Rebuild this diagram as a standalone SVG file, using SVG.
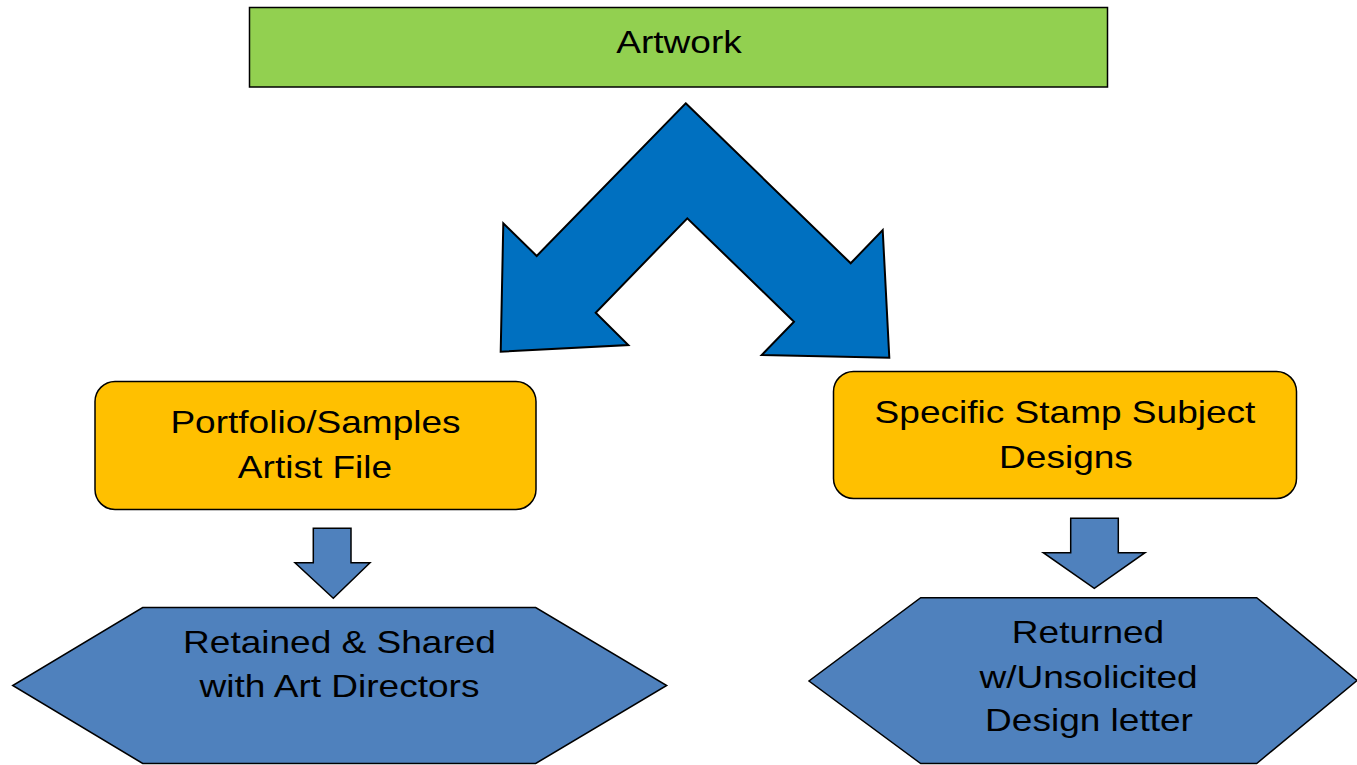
<svg xmlns="http://www.w3.org/2000/svg" width="1357" height="765" viewBox="0 0 1357 765">
<style>
.lbl{font-family:"Liberation Sans",Arial,sans-serif;font-size:31px;fill:#000;text-anchor:middle}
.box{stroke:#000;stroke-width:1.5}
.hex{fill:#4F81BD;stroke:#000;stroke-width:1.5}
.arr{fill:#4F81BD;stroke:#000;stroke-width:1.5;stroke-linejoin:miter}
</style>
<rect width="1357" height="765" fill="#fff"/>
<g id="connectors">
<polygon fill="#0070C0" stroke="#000" stroke-width="2" stroke-linejoin="miter" points="685.7,103.3 850.7,263.3 882.7,230 889.3,357.7 761.7,355 794,321.7 687.3,218.3 595.7,312.7 628.3,345 500.7,351.7 503.3,223.3 536.7,256"/>
<polygon class="arr" points="313.3,528.3 351,528.3 351,562.7 370,562.7 333.3,598.3 295,562.7 313.3,562.7"/>
<polygon class="arr" points="1070.7,518.3 1118.3,518.3 1118.3,552.7 1145,552.7 1094.3,588.3 1043.3,552.7 1070.7,552.7"/>
</g>
<g id="artwork">
<rect class="box" x="249.5" y="7.5" width="858" height="79.5" fill="#92D050"/>
<text class="lbl" transform="translate(679,53) scale(1.195,1)">Artwork</text>
</g>
<g id="portfolio">
<rect class="box" x="95" y="381.5" width="441" height="128" rx="20" fill="#FFC000"/>
<text class="lbl" transform="translate(315.5,433) scale(1.195,1)">Portfolio/Samples</text>
<text class="lbl" transform="translate(315,478) scale(1.195,1)">Artist File</text>
</g>
<g id="specific">
<rect class="box" x="833.5" y="371.5" width="463" height="127" rx="20" fill="#FFC000"/>
<text class="lbl" transform="translate(1065,423) scale(1.195,1)">Specific Stamp Subject</text>
<text class="lbl" transform="translate(1066,468) scale(1.195,1)">Designs</text>
</g>
<g id="retained">
<polygon class="hex" points="142.7,607.5 535.7,607.5 666.7,685.5 535.7,763.5 142.7,763.5 12.7,685.5"/>
<text class="lbl" transform="translate(339.5,653) scale(1.195,1)">Retained &amp; Shared</text>
<text class="lbl" transform="translate(339.5,697) scale(1.195,1)">with Art Directors</text>
</g>
<g id="returned">
<polygon class="hex" points="920.7,597.7 1256.7,597.7 1357,680.5 1256.7,763.5 920.7,763.5 809,681"/>
<text class="lbl" transform="translate(1088,643) scale(1.195,1)">Returned</text>
<text class="lbl" transform="translate(1088.5,688) scale(1.195,1)">w/Unsolicited</text>
<text class="lbl" transform="translate(1089,731) scale(1.195,1)">Design letter</text>
</g>
</svg>
